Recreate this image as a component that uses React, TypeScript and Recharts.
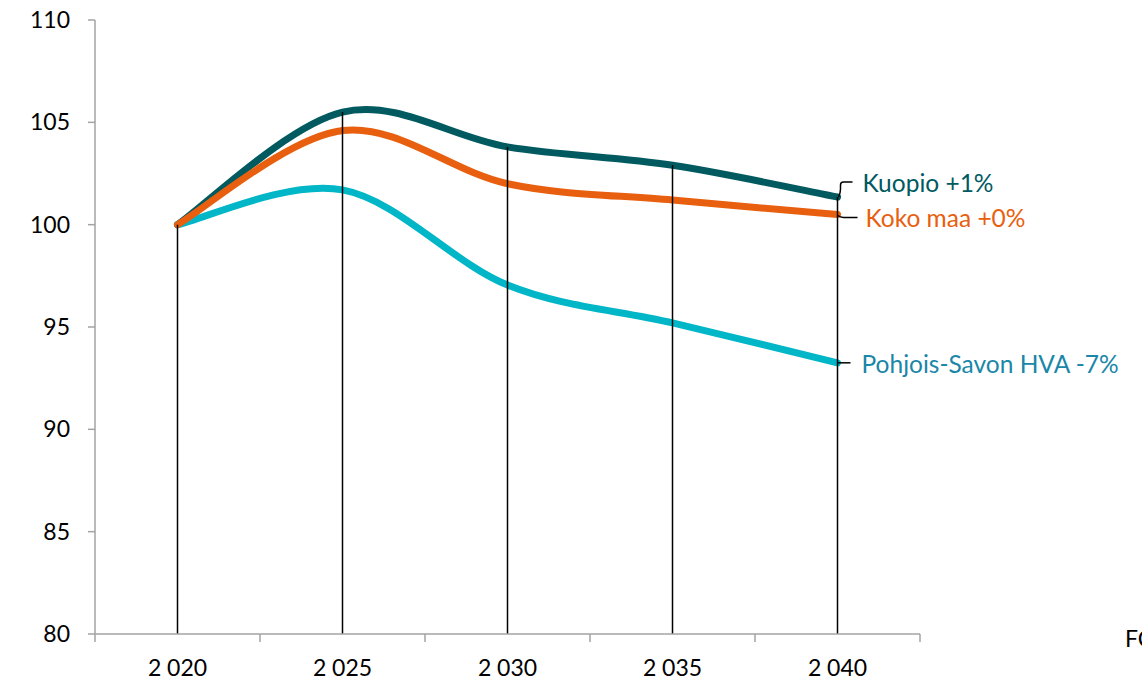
import React from "react";
import {
  LineChart,
  Line,
  XAxis,
  YAxis,
  ReferenceLine,
} from "recharts";

const years = [2020, 2025, 2030, 2035, 2040];
const yearLabels = ["2 020", "2 025", "2 030", "2 035", "2 040"];
const kuopio = [100, 105.5, 103.8, 102.9, 101.35];
const kokoMaa = [100, 104.6, 102.0, 101.2, 100.5];
const pohjoisSavo = [100, 101.7, 97.05, 95.2, 93.25];
const yTicks = [80, 85, 90, 95, 100, 105, 110];
const boundaryTicks = [2017.5, 2022.5, 2027.5, 2032.5, 2037.5, 2042.5];

const FONT = "Lato, 'Open Sans', sans-serif";
const AXIS = "#a3a3a3";

const data = years.map((yr, i) => ({
  year: yr,
  kuopio: kuopio[i],
  kokoMaa: kokoMaa[i],
  pohjoisSavo: pohjoisSavo[i],
}));

// Excel-style smoothed line (Catmull-Rom as cubic beziers)
const excelSmooth = (context: any) => {
  let pts: number[][] = [];
  return {
    areaStart() {},
    areaEnd() {},
    lineStart() {
      pts = [];
    },
    point(x: number, y: number) {
      pts.push([+x, +y]);
    },
    lineEnd() {
      if (!pts.length) return;
      context.moveTo(pts[0][0], pts[0][1]);
      for (let i = 0; i < pts.length - 1; i++) {
        const p0 = pts[Math.max(i - 1, 0)];
        const p1 = pts[i];
        const p2 = pts[i + 1];
        const p3 = pts[Math.min(i + 2, pts.length - 1)];
        context.bezierCurveTo(
          p1[0] + (p2[0] - p0[0]) / 6,
          p1[1] + (p2[1] - p0[1]) / 6,
          p2[0] - (p3[0] - p1[0]) / 6,
          p2[1] - (p3[1] - p1[1]) / 6,
          p2[0],
          p2[1],
        );
      }
    },
  };
};

const XTick = (props: any) => {
  const { x, y, payload } = props;
  const idx = years.indexOf(payload.value);
  if (idx < 0) {
    return <line x1={x} x2={x} y1={y - 8} y2={y} stroke={AXIS} strokeWidth={1.5} />;
  }
  return (
    <text x={x} y={y + 34} textAnchor="middle" fontSize={23} fontFamily={FONT} fill="#000">
      {yearLabels[idx]}
    </text>
  );
};

const endLabel = (text: string, color: string, kind: string) => (props: any) => {
  const { x, y, index } = props;
  if (index !== years.length - 1) return null;
  let path = "";
  let tx = x + 24;
  let ty = y;
  if (kind === "up") {
    path = `M${x + 1},${y} Q${x + 3},${y - 4} ${x + 3},${y - 8} L${x + 3},${y - 12} Q${x + 3},${y - 15} ${x + 6},${y - 15} L${x + 15},${y - 15}`;
    tx = x + 25;
    ty = y - 14;
  } else if (kind === "down") {
    path = `M${x},${y + 1} Q${x + 3},${y + 3} ${x + 6},${y + 3} L${x + 20},${y + 3}`;
    tx = x + 28;
    ty = y + 4;
  } else {
    path = `M${x},${y} L${x + 13},${y}`;
    tx = x + 24;
    ty = y + 1;
  }
  return (
    <g>
      <path d={path} stroke="#000" strokeWidth={1.5} fill="none" />
      <text x={tx} y={ty} dy="0.36em" fontSize={24.5} fontFamily={FONT} fill={color}>
        {text}
      </text>
    </g>
  );
};

export default function App() {
  return (
    <div style={{ position: "absolute", left: 0, top: 0, width: 1142, height: 681, background: "#fff", overflow: "hidden" }}>
      <LineChart
        width={1142}
        height={681}
        data={data}
        margin={{ top: 20, right: 222, left: 0, bottom: 7 }}
      >
        <XAxis
          dataKey="year"
          type="number"
          domain={[2017.5, 2042.5]}
          ticks={[...boundaryTicks, ...years]}
          tick={<XTick />}
          tickLine={false}
          tickSize={8}
          tickMargin={0}
          height={40}
          stroke={AXIS}
          strokeWidth={1.5}
          interval={0}
        />
        <YAxis
          domain={[80, 110]}
          ticks={yTicks}
          width={95}
          tickSize={7}
          tickMargin={18}
          stroke={AXIS}
          strokeWidth={1.5}
          tick={{ fill: "#000", fontSize: 23, fontFamily: FONT }}
          interval={0}
        />
        <Line
          dataKey="kuopio"
          type={excelSmooth as any}
          stroke="#005a5f"
          strokeWidth={7}
          strokeLinecap="round"
          dot={false}
          activeDot={false}
          isAnimationActive={false}
          label={endLabel("Kuopio +1%", "#005a5f", "up")}
        />
        <Line
          dataKey="pohjoisSavo"
          type={excelSmooth as any}
          stroke="#00b6c7"
          strokeWidth={7}
          strokeLinecap="round"
          dot={false}
          activeDot={false}
          isAnimationActive={false}
          label={endLabel("Pohjois-Savon HVA -7%", "#1a86a8", "flat")}
        />
        <Line
          dataKey="kokoMaa"
          type={excelSmooth as any}
          stroke="#e8600f"
          strokeWidth={7}
          strokeLinecap="round"
          dot={false}
          activeDot={false}
          isAnimationActive={false}
          label={endLabel("Koko maa +0%", "#e8600f", "down")}
        />
        {years.map((yr, i) => (
          <ReferenceLine
            key={yr}
            segment={[
              { x: yr, y: 80 },
              { x: yr, y: kuopio[i] },
            ]}
            stroke="#000"
            strokeWidth={1.5}
          />
        ))}
      </LineChart>
      <div
        style={{
          position: "absolute",
          left: 1125,
          top: 624,
          fontFamily: FONT,
          fontSize: 23,
          color: "#000",
          whiteSpace: "nowrap",
        }}
      >
        FC
      </div>
    </div>
  );
}
